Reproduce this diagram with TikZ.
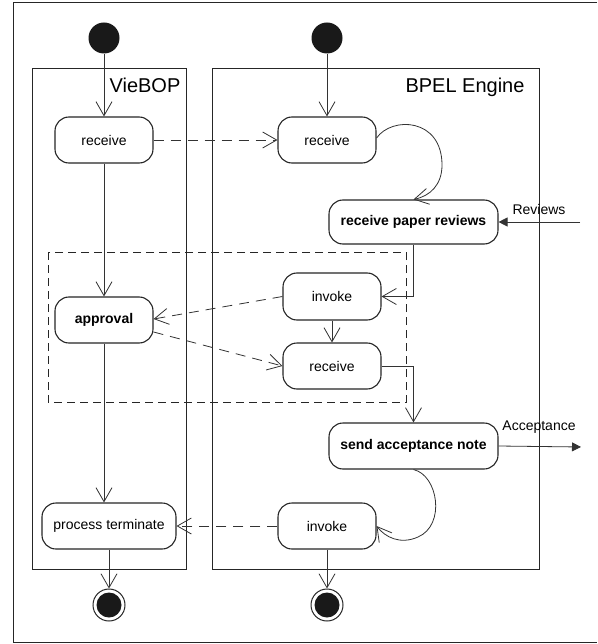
\documentclass[tikz,border=0pt]{standalone}
\usepackage{fontspec}
\setmainfont{Liberation Sans}
\usetikzlibrary{arrows.meta}
\begin{document}
\begin{tikzpicture}[x=1pt,y=-1pt,
 frame/.style={draw=black!85, line width=0.9pt},
 act/.style={draw=black!85, line width=1.1pt, rectangle, rounded corners=14pt, minimum height=46pt, inner sep=0pt, font=\fontsize{14}{16}\selectfont},
 bact/.style={act, font=\fontsize{14}{16}\selectfont\bfseries},
 flow/.style={draw=black!80, line width=0.8pt, -{Straight Barb[length=14pt,width=16pt]}},
 dflow/.style={flow, dash pattern=on 10pt off 7pt},
 sig/.style={draw=black!80, line width=0.8pt, -{Triangle[length=9pt,width=9pt]}},
 startnode/.style={circle, fill=black!90, minimum size=31pt, inner sep=0pt},
 endnode/.style={circle, draw=black!85, line width=1pt, minimum size=32pt, inner sep=0pt},
 lanelabel/.style={font=\fontsize{20}{24}\selectfont, anchor=base},
 siglabel/.style={font=\fontsize{14}{16}\selectfont}
]
\useasboundingbox[fill=white] (0,0) rectangle (597,644);
% outer frame
\draw[frame] (597,2) -- (13,2) -- (13,642) -- (597,642);
% swimlanes
\draw[frame] (32,68) rectangle (186,569);
\draw[frame] (212,68) rectangle (539,569);
\node[lanelabel] (lv) at (145,93) {VieBOP};
\node[lanelabel] (lb) at (465,93) {BPEL Engine};
% dashed group
\draw[draw=black!85, line width=0.9pt, dash pattern=on 8pt off 5pt] (48,252) rectangle (406,402);
% nodes
\node[startnode] (s1) at (104,38) {};
\node[startnode] (s2) at (327,38) {};
\node[act, minimum width=98pt] (r1) at (104,140) {receive};
\node[act, minimum width=98pt] (r2) at (327,140) {receive};
\node[bact, minimum width=169pt, minimum height=44pt] (rpr) at (413.5,222) {receive paper reviews};
\node[bact, minimum width=98pt] (ap) at (104,320) {approval};
\node[act, minimum width=98pt, minimum height=47pt] (inv1) at (332,296.5) {invoke};
\node[act, minimum width=98pt] (rc3) at (332,366) {receive};
\node[bact, minimum width=169pt] (san) at (413.5,446) {send acceptance note};
\node[act, minimum width=98pt] (inv2) at (327,526) {invoke};
\node[act, minimum width=134pt] (pt) at (109,526) {process terminate};
\node[endnode] (e1) at (109,605) {};
\fill[black!90] (e1.center) circle (12.5pt);
\node[endnode] (e2) at (327,605) {};
\fill[black!90] (e2.center) circle (12.5pt);
\coordinate (revsrc) at (580,222);
\coordinate (accdst) at (581,447);
\node[siglabel] (revl) at (539,209) {Reviews};
\node[siglabel] (accl) at (539,427) {Acceptance};
% connectors
\draw[flow] (s1) -- (r1);
\draw[flow] (s2) -- (r2);
\draw[dflow] (r1) -- (r2);
\draw[flow] ([yshift=2pt]r2.east) .. controls (392,116) and (442,118) .. (442,165) .. controls (442,185) and (430,196) .. (rpr.north);
\draw[sig] (revsrc) -- (rpr.east);
\draw[flow] (rpr.south) |- (inv1.east);
\draw[flow] (inv1) -- (rc3);
\draw[flow] (rc3.east) -| (san.north);
\draw[dflow] (inv1.west) -- ([yshift=1pt]ap.east);
\draw[dflow] ([yshift=-12pt]ap.east) -- (rc3.west);
\draw[flow] (r1) -- (ap);
\draw[flow] (ap.south) -- (ap.south |- pt.north);
\draw[sig] (san.east) -- (accdst);
\draw[flow] (san.south) .. controls (438,475) and (446,525) .. (418,537) .. controls (400,545) and (385,537) .. (inv2.east);
\draw[dflow] (inv2) -- (pt);
\draw[flow] (pt) -- (e1);
\draw[flow] (inv2) -- (e2);
\end{tikzpicture}
\end{document}
